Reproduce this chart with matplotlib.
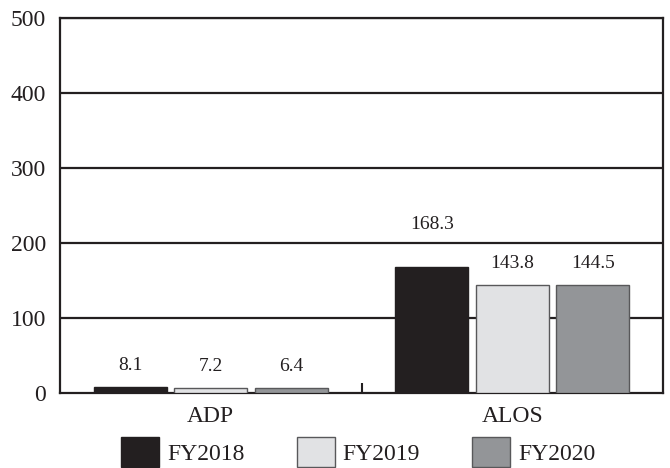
import matplotlib.pyplot as plt
import numpy as np
from matplotlib.patches import Patch

plt.rcParams["font.family"] = ["Liberation Serif", "DejaVu Serif"]

categories = ["ADP", "ALOS"]
series_names = ["FY2018", "FY2019", "FY2020"]
values = {
    "FY2018": [8.1, 168.3],
    "FY2019": [7.2, 143.8],
    "FY2020": [6.4, 144.5],
}
yticks = [0, 100, 200, 300, 400, 500]

FILLS = {"FY2018": "#231f20", "FY2019": "#e1e2e4", "FY2020": "#939598"}
EDGES = {"FY2018": "#231f20", "FY2019": "#58585a", "FY2020": "#58585a"}

fig = plt.figure(figsize=(6.7, 4.68), dpi=100)
ax = fig.add_axes([60 / 670, 1 - 393 / 468, 603 / 670, 375 / 468])

# data units per pixel: 500 units over 375 px
upp = 500 / 375
label_gap = 13 * upp
label_h = 15 * upp

x = np.arange(len(categories))
width = 0.242
pitch = 0.267
for i, name in enumerate(series_names):
    pos = x + (i - 1) * pitch
    bars = ax.bar(pos, values[name], width, color=FILLS[name],
                  edgecolor=EDGES[name], linewidth=1.0, zorder=3, label=name)
    for rect, v in zip(bars, values[name]):
        y = v + label_gap
        # keep the label clear of a gridline, as in the source chart
        for g in yticks[1:]:
            if y - 2 * upp < g < y + label_h:
                y = g + 10 * upp
        ax.text(rect.get_x() + rect.get_width() / 2, y, f"{v}",
                ha="center", va="bottom", fontsize=14, color="#231f20")

ax.set_xlim(-0.5, 1.5)
ax.set_ylim(0, 500)
ax.set_yticks(yticks)
ax.set_yticklabels([str(t) for t in yticks], fontsize=17, color="#231f20")
ax.set_xticks(x)
ax.set_xticklabels(categories, fontsize=17, color="#231f20")
ax.set_xticks([0.5], minor=True)
ax.tick_params(axis="x", which="major", length=0, pad=9)
ax.tick_params(axis="x", which="minor", direction="in", length=7, width=1.5, color="#231f20")
ax.tick_params(axis="y", length=0, pad=10)

for t in yticks[1:]:
    ax.axhline(t, color="#231f20", linewidth=1.6, zorder=1)
for s in ax.spines.values():
    s.set_linewidth(1.6)
    s.set_color("#231f20")

handles = [Patch(facecolor=FILLS[n], edgecolor=EDGES[n], linewidth=1.0, label=n)
           for n in series_names]
fig.legend(handles=handles, loc="center", bbox_to_anchor=(0.535, 1 - 452 / 468),
           ncol=3, frameon=False, fontsize=17, handlelength=1.6, handleheight=1.6,
           handletextpad=0.35, columnspacing=2.2, labelcolor="#231f20")

fig.savefig("out.png", dpi=100)
